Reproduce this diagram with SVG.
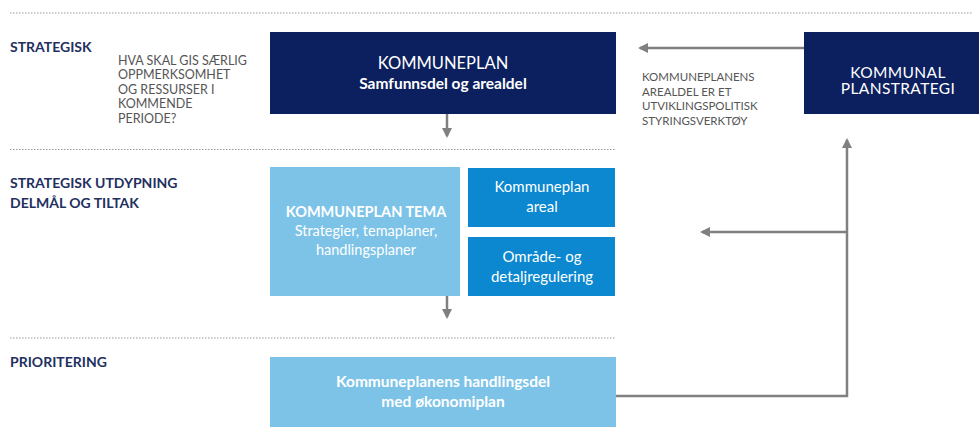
<svg xmlns="http://www.w3.org/2000/svg" width="979" height="440" viewBox="0 0 979 440">
<style>
  .sep{stroke:#9a9a9a;stroke-width:1.2;stroke-dasharray:1.5 1.5;fill:none}
  .lbl{font-family:Lato,"Open Sans","Liberation Sans",sans-serif;font-weight:bold;fill:#23305f;font-size:14px}
  .note{font-family:Lato,"Open Sans","Liberation Sans",sans-serif;fill:#555;font-size:12.5px}
  .note2{font-family:Lato,"Open Sans","Liberation Sans",sans-serif;fill:#555;font-size:11.5px}
  .wt{font-family:Lato,"Open Sans","Liberation Sans",sans-serif;fill:#fff;text-anchor:middle}
  .b{font-weight:bold}
  .con{stroke:#808080;stroke-width:2.5;fill:none}
  .navy{fill:#0c1f5e}
  .light{fill:#7dc3e8}
  .mid{fill:#0b88d0}
</style>
<defs>
  <marker id="ah" viewBox="0 0 10 10" refX="8" refY="5" markerWidth="4" markerHeight="4" orient="auto" markerUnits="strokeWidth">
    <path d="M0,0 L10,5 L0,10 z" fill="#808080"/>
  </marker>
</defs>
<rect width="979" height="440" fill="#fff"/>
<g id="separators">
  <line class="sep" x1="10" y1="13" x2="972" y2="13"/>
  <line class="sep" x1="10" y1="149.5" x2="615" y2="149.5"/>
  <line class="sep" x1="10" y1="338" x2="615" y2="338"/>
</g>
<g id="labels">
  <text class="lbl" x="10" y="52">STRATEGISK</text>
  <text class="note" x="118" y="64.5">HVA SKAL GIS SÆRLIG</text>
  <text class="note" x="118" y="79">OPPMERKSOMHET</text>
  <text class="note" x="118" y="93.5">OG RESSURSER I</text>
  <text class="note" x="118" y="108">KOMMENDE</text>
  <text class="note" x="118" y="122.5">PERIODE?</text>
  <text class="lbl" x="10" y="188">STRATEGISK UTDYPNING</text>
  <text class="lbl" x="10" y="208">DELMÅL OG TILTAK</text>
  <text class="lbl" x="10" y="367">PRIORITERING</text>
  <text class="note2" x="642" y="81">KOMMUNEPLANENS</text>
  <text class="note2" x="642" y="95.5">AREALDEL ER ET</text>
  <text class="note2" x="642" y="110">UTVIKLINGSPOLITISK</text>
  <text class="note2" x="642" y="124.5">STYRINGSVERKTØY</text>
</g>
<g id="connectors">
  <line class="con" x1="804" y1="48" x2="640" y2="48" marker-end="url(#ah)"/>
  <line class="con" x1="447" y1="114" x2="447" y2="136" marker-end="url(#ah)"/>
  <line class="con" x1="447" y1="296" x2="447" y2="317" marker-end="url(#ah)"/>
  <polyline class="con" points="616,396 847,396 847,140" marker-end="url(#ah)"/>
  <line class="con" x1="847" y1="232" x2="702" y2="232" marker-end="url(#ah)"/>
</g>
<g id="kommuneplan">
  <rect class="navy" x="270" y="32" width="346" height="82"/>
  <text class="wt" x="443" y="69" font-size="16.5">KOMMUNEPLAN</text>
  <text class="wt b" x="443" y="89" font-size="15.5">Samfunnsdel og arealdel</text>
</g>
<g id="kommunal-planstrategi">
  <rect class="navy" x="804" y="32" width="175" height="82"/>
  <text class="wt" x="898" y="77.5" font-size="15.5" letter-spacing="0.4">KOMMUNAL</text>
  <text class="wt" x="898" y="94" font-size="15.5" letter-spacing="0.4">PLANSTRATEGI</text>
</g>
<g id="kommuneplan-tema">
  <rect class="light" x="270" y="167" width="190" height="129"/>
  <text class="wt b" x="366" y="217" font-size="14.5">KOMMUNEPLAN TEMA</text>
  <text class="wt" x="366" y="236" font-size="14.5">Strategier, temaplaner,</text>
  <text class="wt" x="366" y="255" font-size="14.5">handlingsplaner</text>
</g>
<g id="kommuneplan-areal">
  <rect class="mid" x="468" y="168" width="147" height="59"/>
  <text class="wt" x="542" y="192" font-size="15">Kommuneplan</text>
  <text class="wt" x="542" y="212" font-size="15">areal</text>
</g>
<g id="omrade-regulering">
  <rect class="mid" x="468" y="237" width="147" height="59"/>
  <text class="wt" x="542" y="262" font-size="15">Område- og</text>
  <text class="wt" x="542" y="282" font-size="15">detaljregulering</text>
</g>
<g id="handlingsdel">
  <rect class="light" x="270" y="357" width="346" height="70"/>
  <text class="wt b" x="443" y="387" font-size="15.5">Kommuneplanens handlingsdel</text>
  <text class="wt b" x="443" y="407" font-size="15.5">med økonomiplan</text>
</g>
</svg>
